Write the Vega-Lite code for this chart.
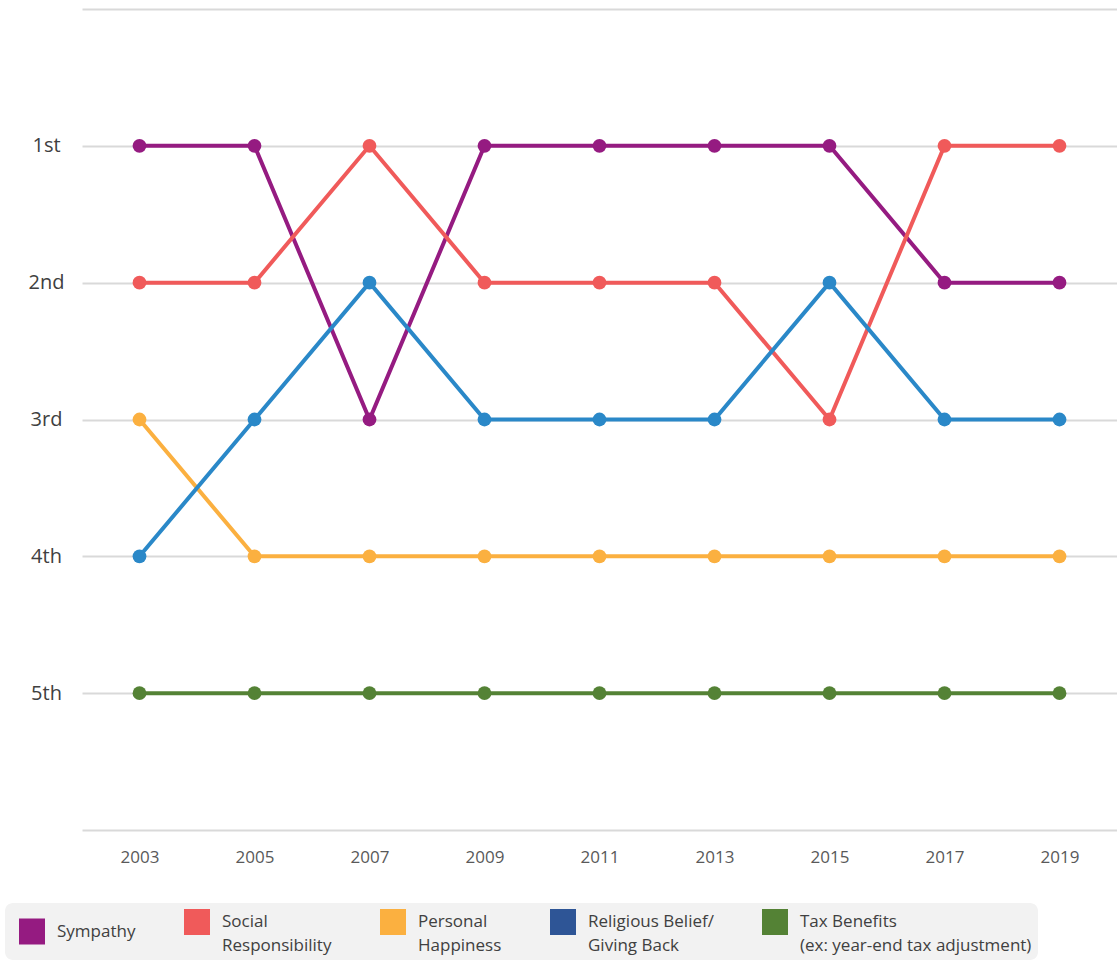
{
  "$schema": "https://vega.github.io/schema/vega-lite/v6.json",
  "autosize": "none",
  "width": 1035,
  "height": 821,
  "padding": {"left": 82, "top": 9, "right": 0, "bottom": 132},
  "background": "white",
  "config": {
    "font": "Open Sans",
    "view": {"stroke": null}
  },
  "datasets": {
    "ranks": [
      {"series": "Sympathy", "year": "2003", "rank": 1},
      {"series": "Sympathy", "year": "2005", "rank": 1},
      {"series": "Sympathy", "year": "2007", "rank": 3},
      {"series": "Sympathy", "year": "2009", "rank": 1},
      {"series": "Sympathy", "year": "2011", "rank": 1},
      {"series": "Sympathy", "year": "2013", "rank": 1},
      {"series": "Sympathy", "year": "2015", "rank": 1},
      {"series": "Sympathy", "year": "2017", "rank": 2},
      {"series": "Sympathy", "year": "2019", "rank": 2},
      {"series": "Social Responsibility", "year": "2003", "rank": 2},
      {"series": "Social Responsibility", "year": "2005", "rank": 2},
      {"series": "Social Responsibility", "year": "2007", "rank": 1},
      {"series": "Social Responsibility", "year": "2009", "rank": 2},
      {"series": "Social Responsibility", "year": "2011", "rank": 2},
      {"series": "Social Responsibility", "year": "2013", "rank": 2},
      {"series": "Social Responsibility", "year": "2015", "rank": 3},
      {"series": "Social Responsibility", "year": "2017", "rank": 1},
      {"series": "Social Responsibility", "year": "2019", "rank": 1},
      {"series": "Personal Happiness", "year": "2003", "rank": 3},
      {"series": "Personal Happiness", "year": "2005", "rank": 4},
      {"series": "Personal Happiness", "year": "2007", "rank": 4},
      {"series": "Personal Happiness", "year": "2009", "rank": 4},
      {"series": "Personal Happiness", "year": "2011", "rank": 4},
      {"series": "Personal Happiness", "year": "2013", "rank": 4},
      {"series": "Personal Happiness", "year": "2015", "rank": 4},
      {"series": "Personal Happiness", "year": "2017", "rank": 4},
      {"series": "Personal Happiness", "year": "2019", "rank": 4},
      {"series": "Religious Belief/ Giving Back", "year": "2003", "rank": 4},
      {"series": "Religious Belief/ Giving Back", "year": "2005", "rank": 3},
      {"series": "Religious Belief/ Giving Back", "year": "2007", "rank": 2},
      {"series": "Religious Belief/ Giving Back", "year": "2009", "rank": 3},
      {"series": "Religious Belief/ Giving Back", "year": "2011", "rank": 3},
      {"series": "Religious Belief/ Giving Back", "year": "2013", "rank": 3},
      {"series": "Religious Belief/ Giving Back", "year": "2015", "rank": 2},
      {"series": "Religious Belief/ Giving Back", "year": "2017", "rank": 3},
      {"series": "Religious Belief/ Giving Back", "year": "2019", "rank": 3},
      {"series": "Tax Benefits (ex: year-end tax adjustment)", "year": "2003", "rank": 5},
      {"series": "Tax Benefits (ex: year-end tax adjustment)", "year": "2005", "rank": 5},
      {"series": "Tax Benefits (ex: year-end tax adjustment)", "year": "2007", "rank": 5},
      {"series": "Tax Benefits (ex: year-end tax adjustment)", "year": "2009", "rank": 5},
      {"series": "Tax Benefits (ex: year-end tax adjustment)", "year": "2011", "rank": 5},
      {"series": "Tax Benefits (ex: year-end tax adjustment)", "year": "2013", "rank": 5},
      {"series": "Tax Benefits (ex: year-end tax adjustment)", "year": "2015", "rank": 5},
      {"series": "Tax Benefits (ex: year-end tax adjustment)", "year": "2017", "rank": 5},
      {"series": "Tax Benefits (ex: year-end tax adjustment)", "year": "2019", "rank": 5}
    ],
    "legendItems": [
      {"category": "Sympathy"},
      {"category": "Social Responsibility"},
      {"category": "Personal Happiness"},
      {"category": "Religious Belief/ Giving Back"},
      {"category": "Tax Benefits (ex: year-end tax adjustment)"}
    ]
  },
  "layer": [
    {
      "data": {"name": "ranks"},
      "mark": {"type": "line", "strokeWidth": 4},
      "encoding": {
        "x": {
          "field": "year",
          "type": "ordinal",
          "scale": {"type": "point", "padding": 0.5},
          "axis": {
            "title": null,
            "labelAngle": 0,
            "domain": false,
            "ticks": false,
            "grid": false,
            "labelFontSize": 17,
            "labelColor": "#595959",
            "labelPadding": 19
          }
        },
        "y": {
          "field": "rank",
          "type": "quantitative",
          "scale": {"domain": [0, 6], "reverse": true, "nice": false, "zero": false},
          "axis": {
            "title": null,
            "values": [0, 1, 2, 3, 4, 5, 6],
            "labelExpr": "datum.value == 1 ? '1st' : datum.value == 2 ? '2nd' : datum.value == 3 ? '3rd' : datum.value == 4 ? '4th' : datum.value == 5 ? '5th' : ''",
            "domain": false,
            "ticks": false,
            "grid": true,
            "gridColor": "#d9d9d9",
            "gridWidth": 2,
            "labelFontSize": 20,
            "labelColor": "#404040",
            "labelAlign": "center",
            "labelPadding": 36
          }
        },
        "color": {
          "field": "series",
          "type": "nominal",
          "scale": {
            "domain": ["Sympathy", "Social Responsibility", "Personal Happiness", "Religious Belief/ Giving Back", "Tax Benefits (ex: year-end tax adjustment)"],
            "range": ["#951B81", "#F05A5A", "#FBB040", "#2A88C8", "#548235"]
          },
          "legend": null
        }
      }
    },
    {
      "data": {"name": "ranks"},
      "mark": {"type": "point", "filled": true, "size": 190, "opacity": 1},
      "encoding": {
        "x": {"field": "year", "type": "ordinal"},
        "y": {"field": "rank", "type": "quantitative"},
        "color": {"field": "series", "type": "nominal", "legend": null}
      }
    },
    {
      "data": {"name": "legendItems"},
      "mark": {"type": "square", "opacity": 0},
      "encoding": {
        "fill": {
          "field": "category",
          "type": "nominal",
          "sort": ["Sympathy", "Social Responsibility", "Personal Happiness", "Religious Belief/ Giving Back", "Tax Benefits (ex: year-end tax adjustment)"],
          "scale": {
            "range": ["#951B81", "#F05A5A", "#FBB040", "#2E5596", "#548235"]
          },
          "legend": {
            "title": null,
            "orient": "none",
            "legendX": -77,
            "legendY": 894,
            "direction": "horizontal",
            "columns": 5,
            "columnPadding": 40,
            "padding": 6,
            "symbolOffset": 8,
            "fillColor": "#f2f2f2",
            "cornerRadius": 8,
            "symbolType": "square",
            "symbolSize": 676,
            "symbolOpacity": 1,
            "symbolStrokeWidth": 0,
            "labelOffset": 12,
            "labelFontSize": 17,
            "labelColor": "#404040",
            "labelLimit": 400,
            "labelExpr": "datum.label == 'Social Responsibility' ? ['Social', 'Responsibility'] : datum.label == 'Personal Happiness' ? ['Personal', 'Happiness'] : datum.label == 'Religious Belief/ Giving Back' ? ['Religious Belief/', 'Giving Back'] : datum.label == 'Tax Benefits (ex: year-end tax adjustment)' ? ['Tax Benefits', '(ex: year-end tax adjustment)'] : datum.label",
            "encode": {"labels": {"update": {"lineHeight": {"value": 24}}}}
          }
        }
      }
    }
  ]
}
